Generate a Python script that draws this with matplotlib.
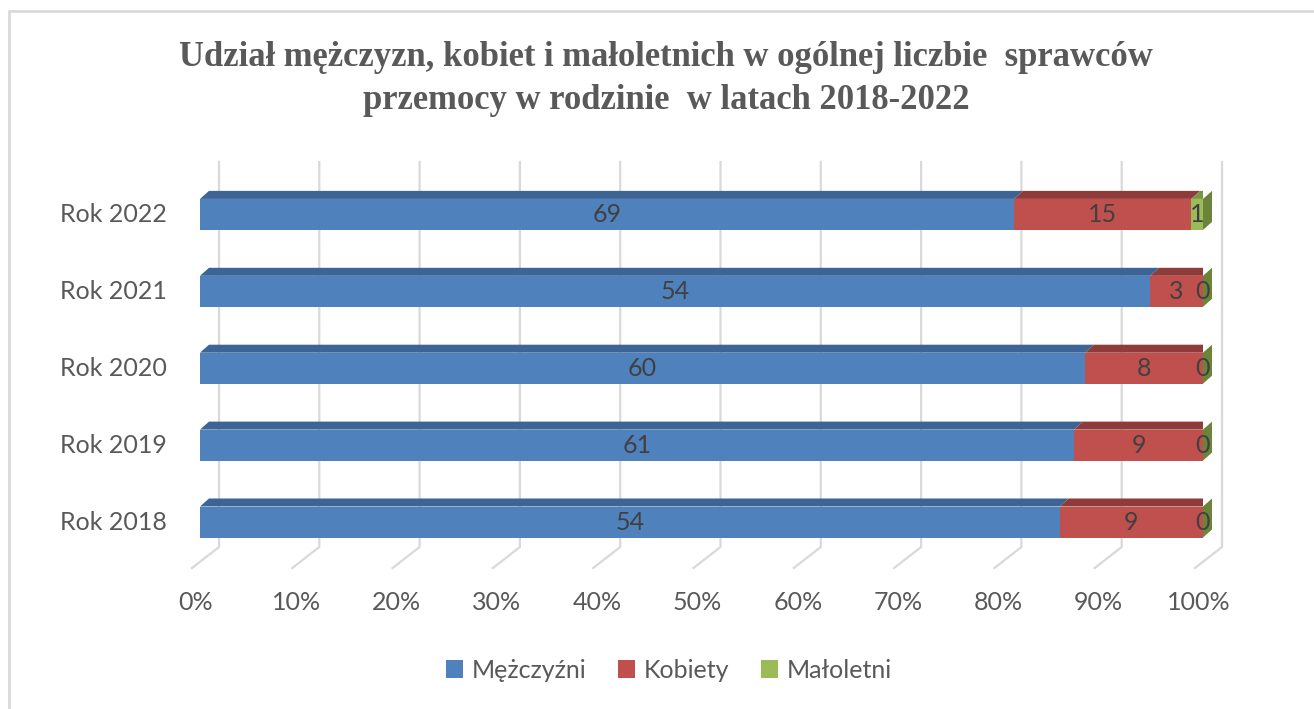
"""Stacked 100% bar chart (Excel 3D style) - sprawcy przemocy 2018-2022."""

import matplotlib

matplotlib.use("Agg")
import matplotlib.pyplot as plt  # noqa: E402
from matplotlib.patches import Polygon, Patch, Rectangle  # noqa: E402

years = ["Rok 2018", "Rok 2019", "Rok 2020", "Rok 2021", "Rok 2022"]
series_names = ["Mężczyźni", "Kobiety", "Małoletni"]
men = [54, 61, 60, 54, 69]
women = [9, 9, 8, 3, 15]
minors = [0, 0, 0, 0, 1]
xticks = [0, 10, 20, 30, 40, 50, 60, 70, 80, 90, 100]
title = ("Udział mężczyzn, kobiet i małoletnich w ogólnej liczbie  sprawców\n"
         "przemocy w rodzinie  w latach 2018-2022")

front = ["#4F81BD", "#C0504D", "#9BBB59"]
top = ["#3C6494", "#8E3B39", "#78963F"]
side = ["#2F4F77", "#7A3231", "#6A8539"]
text_gray = "#595959"
label_gray = "#404040"
grid_gray = "#D9D9D9"

W, H = 1314, 709
fig = plt.figure(figsize=(W / 100, H / 100), dpi=100)
plt.rcParams["font.family"] = ["Lato", "DejaVu Sans"]

# light frame round the chart (runs past the right / bottom edge)
fig.patches.append(Rectangle((9 / W, -0.05), 1.1, 1 - 11 / H + 0.05,
                             transform=fig.transFigure, fill=False,
                             edgecolor="#D9D9D9", linewidth=2))

# axes in pixel coordinates: x 0..100% -> px 200..1203
px_left, px_right, px_top, px_bot = 200, 1203, 170, 567
ax = fig.add_axes([px_left / W, 1 - px_bot / H,
                   (px_right - px_left) / W, (px_bot - px_top) / H])
px_per_x = (px_right - px_left) / 100
px_per_y = 76.9
center0 = 522  # px of first category
ylo = (center0 - px_bot) / px_per_y
yhi = (center0 - px_top) / px_per_y
ax.set_xlim(0, 100)
ax.set_ylim(ylo, yhi)
ax.axis("off")

# gridlines on the back wall and floor
g_dx = 19 / px_per_x
g_top = (center0 - 162) / px_per_y
g_floor = (center0 - 547) / px_per_y
g_front_dx = -8 / px_per_x
g_front_y = (center0 - 568) / px_per_y
for t in xticks:
    ax.plot([t + g_dx, t + g_dx, t + g_front_dx], [g_top, g_floor, g_front_y],
            color=grid_gray, linewidth=1.6, clip_on=False, zorder=1)
    ax.text(t - 0.4, (center0 - 603) / px_per_y, f"{t}%", ha="center",
            va="center", fontsize=18, color=text_gray, clip_on=False)

# 3D bars
dx = 9 / px_per_x
dy = 8 / px_per_y
hh = 15.5 / px_per_y
totals = [m + w + n for m, w, n in zip(men, women, minors)]
for i, year in enumerate(years):
    vals = [men[i], women[i], minors[i]]
    left = 0.0
    segs = []
    for k, v in enumerate(vals):
        width = v / totals[i] * 100
        segs.append((left, width))
        left += width
    for k, (x0, wdt) in enumerate(segs):
        x1 = x0 + wdt
        ax.add_patch(Polygon([(x0, i - hh), (x1, i - hh), (x1, i + hh), (x0, i + hh)],
                             closed=True, facecolor=front[k], edgecolor="none",
                             zorder=3))
        ax.add_patch(Polygon([(x0, i + hh), (x1, i + hh), (x1 + dx, i + hh + dy),
                              (x0 + dx, i + hh + dy)], closed=True,
                             facecolor=top[k], edgecolor="none", zorder=3))
    ax.add_patch(Polygon([(100, i - hh), (100 + dx, i - hh + dy),
                          (100 + dx, i + hh + dy), (100, i + hh)], closed=True,
                         facecolor=side[2], edgecolor="none", zorder=3,
                         clip_on=False))
    for k, (x0, wdt) in enumerate(segs):
        ax.text(x0 + wdt / 2, i, str(vals[k]), ha="center", va="center",
                fontsize=18, color=label_gray, zorder=5, clip_on=False)
    ax.text(-3.3, i, year, ha="right", va="center", fontsize=18,
            color=text_gray, clip_on=False)

fig.text(666 / W, 1 - 79 / H, title, ha="center", va="center",
         fontsize=24.9, fontweight="bold", color=text_gray,
         family=["Liberation Serif", "DejaVu Serif"], linespacing=1.4)

handles = [Patch(facecolor=c, edgecolor="none") for c in front]
fig.legend(handles, series_names, loc="center", ncol=3,
           bbox_to_anchor=(669 / W, 1 - 670 / H), frameon=False,
           fontsize=18, labelcolor=text_gray, handlelength=0.7,
           handleheight=0.7, handletextpad=0.35, columnspacing=1.25)

fig.savefig("out.png", dpi=100)
plt.close(fig)
